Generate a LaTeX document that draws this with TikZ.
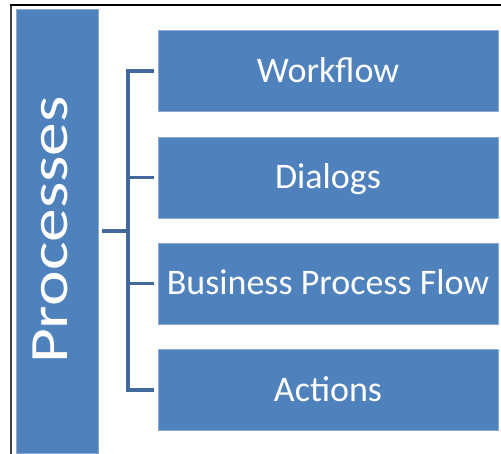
\documentclass[tikz,border=0pt]{standalone}
\usepackage{fontspec}
\setmainfont{Carlito}
\definecolor{boxblue}{HTML}{4F81BD}
\definecolor{boxedge}{HTML}{8EAAD3}
\definecolor{linkblue}{HTML}{41699C}
\begin{document}
\begin{tikzpicture}[x=1pt,y=-1pt,
  item/.style={fill=boxblue,draw=boxedge,line width=0.8pt,text=white,
    minimum width=340pt,minimum height=81pt,inner sep=0pt,
    text height=23pt,text depth=0pt,font=\fontsize{36}{40}\selectfont},
  link/.style={draw=linkblue,line width=3.5pt}]
  \useasboundingbox (0,0) rectangle (501,454);
  % frame
  \draw[line width=2pt,black!75] (11,454) -- (11,5);
  \draw[line width=2pt,black] (10,5) -- (501,5);
  % left bar
  \node[fill=boxblue,draw=boxedge,line width=0.8pt,minimum width=82pt,
    minimum height=444pt,inner sep=0pt] (proc) at (57,231) {};
  \node[rotate=90,anchor=base,text=white,inner sep=0pt,
    font=\fontsize{54}{60}\selectfont] (proclabel) at (67,230)
    {\scalebox{1.25}[1]{Processes}};
  % items
  \node[item] (wf)  at (328,71)    {Workflow};
  \node[item] (dlg) at (328,177.5) {Dialogs};
  \node[item] (bpf) at (328,283.5) {Business Process Flow};
  \node[item] (act) at (328,390)   {Actions};
  % bracket
  \coordinate (spine) at (128,231);
  \draw[link,shorten <=4pt] (proc.east) -- (spine);
  \draw[link,shorten <=4pt,shorten >=4pt] (wf.west) -- (wf.west -| spine)
    -- (act.west -| spine) -- (act.west);
  \draw[link,shorten <=4pt] (dlg.west) -- (dlg.west -| spine);
  \draw[link,shorten <=4pt] (bpf.west) -- (bpf.west -| spine);
\end{tikzpicture}
\end{document}
